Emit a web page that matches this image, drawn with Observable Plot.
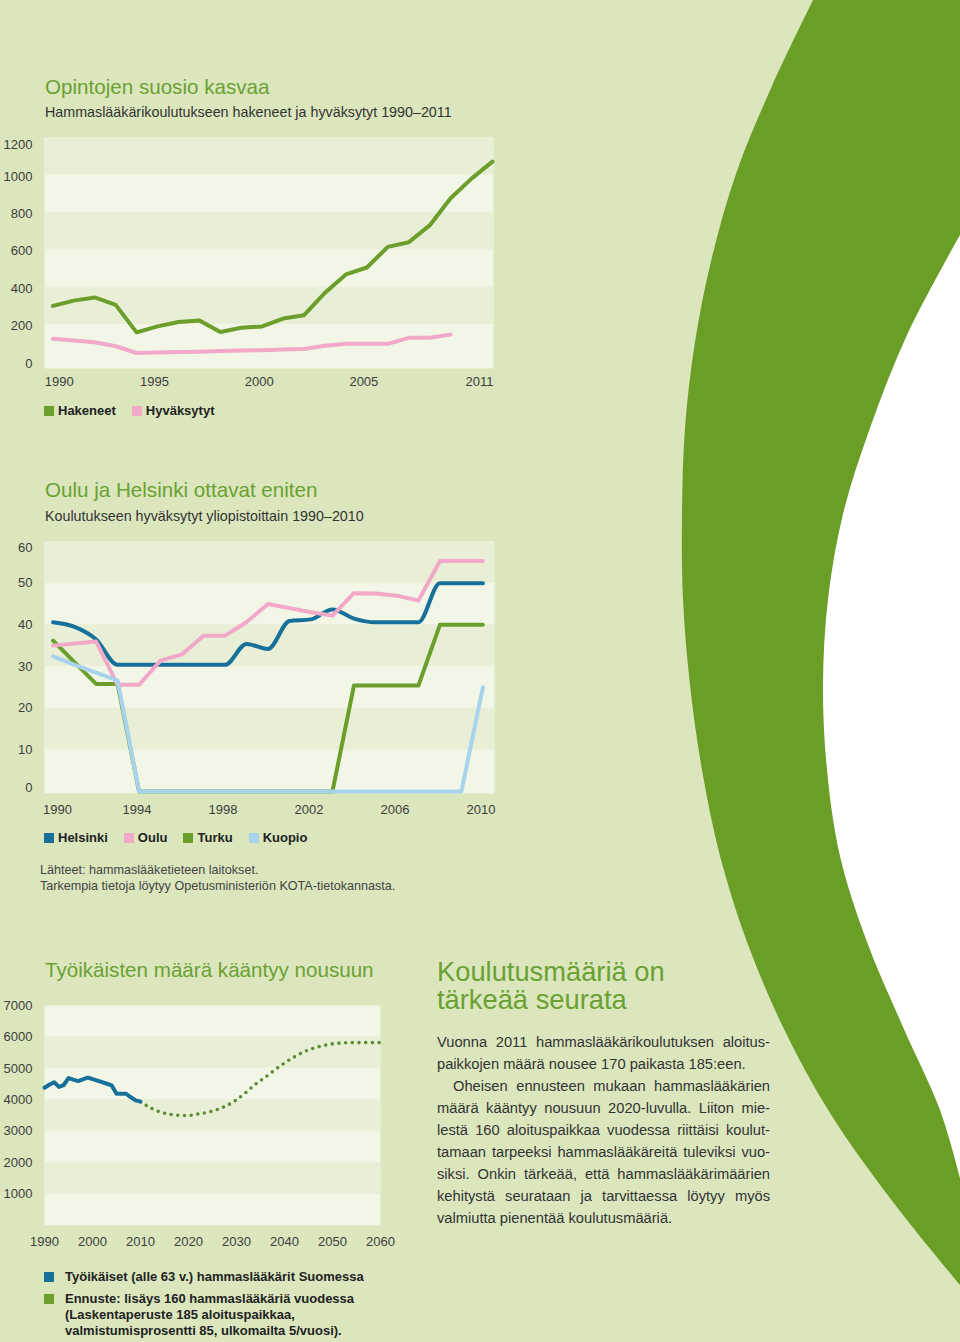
<!DOCTYPE html>
<html><head><meta charset="utf-8">
<script src="https://cdn.jsdelivr.net/npm/d3@7"></script>
<script src="https://cdn.jsdelivr.net/npm/@observablehq/plot@0.6"></script>
<style>
html,body{margin:0;padding:0;}
body{width:960px;height:1342px;position:relative;overflow:hidden;background:#dbe6bd;font-family:"Liberation Sans",Arial,sans-serif;color:#333;}
.abs{position:absolute;white-space:nowrap;}
.title{color:#6aa133;font-size:20.6px;line-height:24px;}
.sub{font-size:14.3px;line-height:17px;color:#333;}
.legend{display:flex;align-items:center;font-weight:bold;font-size:13px;color:#222;line-height:16px;}
.legend .item{display:flex;align-items:center;margin-right:16px;}
.legend .sw{width:10px;height:10px;margin-right:4px;flex:none;}
.src{font-size:12.6px;line-height:16px;color:#444;}
.rtitle{color:#6aa133;font-size:27.3px;line-height:28px;}
.body{font-size:14.7px;line-height:22px;color:#333;width:333px;white-space:normal;}
.body .j{text-align:justify;text-align-last:justify;white-space:nowrap;}
.body .l{text-align:left;white-space:nowrap;}
.leg3{font-weight:bold;font-size:13px;line-height:16px;color:#222;}
.leg3 .row{position:relative;padding-left:21px;}
.leg3 .sw{position:absolute;left:0;top:3px;width:10px;height:10px;}
#deco{position:absolute;left:0;top:0;}
</style>
</head><body>
<svg id="deco" width="960" height="1342"></svg>

<div class="abs title" style="left:45px;top:75px;">Opintojen suosio kasvaa</div>
<div class="abs sub" style="left:45px;top:104px;">Hammaslääkärikoulutukseen hakeneet ja hyväksytyt 1990–2011</div>
<div id="c1" class="abs" style="left:0;top:125px;"></div>
<div id="leg1" class="abs legend" style="left:44px;top:403px;"></div>

<div class="abs title" style="left:45px;top:478px;">Oulu ja Helsinki ottavat eniten</div>
<div class="abs sub" style="left:45px;top:508px;">Koulutukseen hyväksytyt yliopistoittain 1990–2010</div>
<div id="c2" class="abs" style="left:0;top:530px;"></div>
<div id="leg2" class="abs legend" style="left:44px;top:830px;"></div>
<div class="abs src" style="left:40px;top:862px;">Lähteet: hammaslääketieteen laitokset.<br>Tarkempia tietoja löytyy Opetusministeriön KOTA-tietokannasta.</div>

<div class="abs title" style="left:45px;top:958px;">Työikäisten määrä kääntyy nousuun</div>
<div id="c3" class="abs" style="left:0;top:990px;"></div>
<div id="leg3" class="abs leg3" style="left:44px;top:1269px;"></div>

<div class="abs rtitle" style="left:437px;top:958px;">Koulutusmääriä on<br>tärkeää seurata</div>
<div class="abs body" style="left:437px;top:1031px;">
<div class="j">Vuonna 2011 hammaslääkärikoulutuksen aloitus-</div>
<div class="l">paikkojen määrä nousee 170 paikasta 185:een.</div>
<div class="j" style="padding-left:16px;">Oheisen ennusteen mukaan hammaslääkärien</div>
<div class="j">määrä kääntyy nousuun 2020-luvulla. Liiton mie-</div>
<div class="j">lestä 160 aloituspaikkaa vuodessa riittäisi koulut-</div>
<div class="j">tamaan tarpeeksi hammaslääkäreitä tuleviksi vuo-</div>
<div class="j">siksi. Onkin tärkeää, että hammaslääkärimäärien</div>
<div class="j">kehitystä seurataan ja tarvittaessa löytyy myös</div>
<div class="l">valmiutta pienentää koulutusmääriä.</div>
</div>

<script>
// ---------- DATA ----------
// Chart 1: applicants and accepted 1990–2011
const years1 = [1990,1991,1992,1993,1994,1995,1996,1997,1998,1999,2000,2001,2002,2003,2004,2005,2006,2007,2008,2009,2010,2011];
const hakeneet = [300,328,345,305,158,190,214,222,160,183,190,232,250,370,468,505,615,640,730,875,980,1071];
const hyvaksytytYears = [1990,1991,1992,1993,1994,1995,1996,1997,1998,1999,2000,2001,2002,2003,2004,2005,2006,2007,2008,2009];
const hyvaksytyt = [124,115,105,84,48,50,53,55,58,61,63,66,69,87,97,97,97,129,129,146];
const yTicks1 = [0,200,400,600,800,1000,1200];
const xTicks1 = [1990,1995,2000,2005,2011];
const legend1 = ["Hakeneet","Hyväksytyt"];

// Chart 2: accepted by university 1990–2010
const years2 = [1990,1991,1992,1993,1994,1995,1996,1997,1998,1999,2000,2001,2002,2003,2004,2005,2006,2007,2008,2009,2010];
const helsinki = [40.6,39.5,36.5,30.4,30.4,30.4,30.4,30.4,30.4,35.4,34.2,40.9,41.3,43.7,41.5,40.6,40.6,40.6,50,50,50];
const oulu     = [35,35.5,36,25.6,25.6,31.4,32.9,37.4,37.4,40.6,45,44,43,42.2,47.6,47.5,47,45.8,55.3,55.3,55.3];
const turku    = [36.2,31,25.8,25.8,0,0,0,0,0,0,0,0,0,0,25.4,25.4,25.4,25.4,40,40,40];
const kuopio   = [32.4,30.4,28.5,26.6,0,0,0,0,0,0,0,0,0,0,0,0,0,0,0,0,25];
const yTicks2 = [0,10,20,30,40,50,60];
const xTicks2 = [1990,1994,1998,2002,2006,2010];
const legend2 = ["Helsinki","Oulu","Turku","Kuopio"];

// Chart 3: working-age dentists and forecast
const years3 = [1990,1991,1992,1993,1994,1995,1996,1997,1998,1999,2000,2001,2002,2003,2004,2005,2006,2007,2008,2009,2010];
const tyoikaiset = [4383,4480,4560,4410,4470,4690,4640,4594,4650,4703,4660,4610,4560,4510,4457,4192,4192,4192,4080,3980,3940];
const ennusteYears = [2010,2012,2014,2016,2018,2020,2022,2024,2026,2028,2030,2032,2034,2036,2038,2040,2042,2044,2046,2048,2050,2052,2054,2056,2058,2060];
const ennuste = [3940,3750,3620,3540,3505,3500,3550,3600,3690,3818,4000,4240,4500,4720,4950,5170,5360,5520,5640,5720,5780,5810,5820,5820,5820,5820];
const yTicks3 = [1000,2000,3000,4000,5000,6000,7000];
const xTicks3 = [1990,2000,2010,2020,2030,2040,2050,2060];
const legend3 = ["Työikäiset (alle 63 v.) hammaslääkärit Suomessa",
                 "Ennuste: lisäys 160 hammaslääkäriä vuodessa|(Laskentaperuste 185 aloituspaikkaa,|valmistumisprosentti 85, ulkomailta 5/vuosi)."];

// ---------- STYLE ----------
const C = {
  green: "#6b9e2b", pink: "#f2a8c8", blue: "#17709a", lightblue: "#a8d3ec",
  dots: "#5d8c34", bandDark: "#e8efd6", bandLight: "#f2f6e7", text: "#3d3d3d", deco: "#6b9e27"
};
const plotStyle = {background: "transparent", fontFamily: '"Liberation Sans", Arial, sans-serif', fontSize: "13px", color: C.text, overflow: "visible"};

function bands(ticks, lo) {
  // alternating bands between ticks; bottom band (from domain min) is light
  const out = [];
  for (let i = 0; i < ticks.length - 1; i++) {
    out.push({y1: i === 0 ? lo : ticks[i], y2: ticks[i + 1], dark: i % 2 === 1});
  }
  return out;
}
function rows(xs, ys) { return xs.map((x, i) => ({x, y: ys[i]})); }
const tf = d => String(d);

// ---------- CHART 1 ----------
{
  const xd = [1989.6, 2011.05], yd = [-35, 1200];
  const b = bands(yTicks1, yd[0]).filter(d => d.dark);
  const txt = {fill: C.text, fontSize: 13};
  const p = Plot.plot({
    width: 500, height: 280, marginLeft: 44, marginRight: 7, marginTop: 12, marginBottom: 37,
    x: {domain: xd, axis: null}, y: {domain: yd, axis: null}, style: plotStyle,
    marks: [
      Plot.frame({fill: C.bandLight, stroke: "none"}),
      Plot.rect(b, {x1: () => xd[0], x2: () => xd[1], y1: "y1", y2: "y2", fill: C.bandDark}),
      Plot.line(rows(hyvaksytytYears, hyvaksytyt), {x: "x", y: "y", stroke: C.pink, strokeWidth: 4}),
      Plot.line(rows(years1, hakeneet), {x: "x", y: "y", stroke: C.green, strokeWidth: 4}),
      Plot.text(yTicks1.slice(0, -1), {y: d => d, text: tf, frameAnchor: "left", textAnchor: "end", dx: -12, dy: 1.5, ...txt}),
      Plot.text(yTicks1.slice(-1), {y: d => d, text: tf, frameAnchor: "left", textAnchor: "end", dx: -12, dy: 7, ...txt}),
      Plot.text(xTicks1.slice(0, 1), {x: d => d, text: tf, frameAnchor: "bottom", textAnchor: "start", dx: -8, dy: 17, ...txt}),
      Plot.text(xTicks1.slice(1, -1), {x: d => d, text: tf, frameAnchor: "bottom", dx: -3, dy: 17, ...txt}),
      Plot.text(xTicks1.slice(-1), {x: d => d, text: tf, frameAnchor: "bottom", textAnchor: "end", dx: 1, dy: 17, ...txt})
    ]
  });
  document.getElementById("c1").append(p);
  const cols = [C.green, C.pink];
  document.getElementById("leg1").innerHTML = legend1.map((t, i) =>
    `<span class="item"><span class="sw" style="background:${cols[i]}"></span>${t}</span>`).join("");
}

// ---------- CHART 2 ----------
{
  const xd = [1989.6, 2010.54], yd = [-0.5, 60];
  const b = bands(yTicks2, yd[0]).filter(d => d.dark);
  const txt = {fill: C.text, fontSize: 13};
  const mid = yTicks2.slice(1, -1);
  const p = Plot.plot({
    width: 500, height: 300, marginLeft: 44, marginRight: 6, marginTop: 11, marginBottom: 37,
    x: {domain: xd, axis: null}, y: {domain: yd, axis: null}, style: plotStyle,
    marks: [
      Plot.frame({fill: C.bandLight, stroke: "none"}),
      Plot.rect(b, {x1: () => xd[0], x2: () => xd[1], y1: "y1", y2: "y2", fill: C.bandDark}),
      Plot.line(rows(years2, turku), {x: "x", y: "y", stroke: C.green, strokeWidth: 4}),
      Plot.line(rows(years2, helsinki), {x: "x", y: "y", stroke: C.blue, strokeWidth: 4, curve: "monotone-x"}),
      Plot.line(rows(years2, oulu), {x: "x", y: "y", stroke: C.pink, strokeWidth: 4}),
      Plot.line(rows(years2, kuopio), {x: "x", y: "y", stroke: C.lightblue, strokeWidth: 4}),
      Plot.text(mid, {y: d => d, text: tf, frameAnchor: "left", textAnchor: "end", dx: -12, ...txt}),
      Plot.text(yTicks2.slice(-1), {y: d => d, text: tf, frameAnchor: "left", textAnchor: "end", dx: -12, dy: 6, ...txt}),
      Plot.text(yTicks2.slice(0, 1), {y: d => d, text: tf, frameAnchor: "left", textAnchor: "end", dx: -12, dy: -4, ...txt}),
      Plot.text(xTicks2.slice(0, 1), {x: d => d, text: tf, frameAnchor: "bottom", textAnchor: "start", dx: -10, dy: 20, ...txt}),
      Plot.text(xTicks2.slice(1), {x: d => d, text: tf, frameAnchor: "bottom", dx: -2, dy: 20, ...txt})
    ]
  });
  document.getElementById("c2").append(p);
  const cols = [C.blue, C.pink, C.green, C.lightblue];
  document.getElementById("leg2").innerHTML = legend2.map((t, i) =>
    `<span class="item"><span class="sw" style="background:${cols[i]}"></span>${t}</span>`).join("");
}

// ---------- CHART 3 ----------
{
  const xd = [1990, 2060], yd = [0, 7000];
  const b = bands([0, ...yTicks3], yd[0]).filter(d => d.dark);
  const txt = {fill: C.text, fontSize: 13};
  const p = Plot.plot({
    width: 400, height: 270, marginLeft: 44, marginRight: 20, marginTop: 15, marginBottom: 35,
    x: {domain: xd, axis: null}, y: {domain: yd, axis: null}, style: plotStyle,
    marks: [
      Plot.frame({fill: C.bandLight, stroke: "none"}),
      Plot.rect(b, {x1: () => xd[0], x2: () => xd[1], y1: "y1", y2: "y2", fill: C.bandDark}),
      Plot.line(rows(ennusteYears, ennuste), {x: "x", y: "y", stroke: C.dots, strokeWidth: 3.6,
        strokeDasharray: "0 6.7", strokeLinecap: "round", curve: "monotone-x"}),
      Plot.line(rows(years3, tyoikaiset), {x: "x", y: "y", stroke: C.blue, strokeWidth: 4}),
      Plot.text(yTicks3, {y: d => d, text: tf, frameAnchor: "left", textAnchor: "end", dx: -12, ...txt}),
      Plot.text(xTicks3, {x: d => d, text: tf, frameAnchor: "bottom", dy: 20, ...txt})
    ]
  });
  document.getElementById("c3").append(p);
  const cols = [C.blue, C.green];
  document.getElementById("leg3").innerHTML = legend3.map((t, i) =>
    `<div class="row" style="margin-bottom:${i === 0 ? 6 : 0}px"><span class="sw" style="background:${cols[i]}"></span>${t.split("|").join("<br>")}</div>`).join("");
}

// ---------- DECORATION (page background arc) ----------
{
  const outer = [[813,0],[772,86],[737,171],[712,257],[695,342],[685,428],[682,514],[683,599],[690,685],[702,770],[720,856],[747,942],[783,1027],[830,1113],[893,1202],[960,1285]];
  const inner = [[960,235],[907,335],[870,428],[843,514],[828,599],[823,685],[827,770],[840,856],[867,942],[903,1027],[940,1110],[960,1178]];
  const line = d3.line().curve(d3.curveCatmullRom);
  const svg = d3.select("#deco");
  svg.append("path").attr("d", line(outer) + "L960,0Z").attr("fill", C.deco);
  svg.append("path").attr("d", line(inner) + "Z").attr("fill", "#ffffff");
}
</script>
</body></html>
